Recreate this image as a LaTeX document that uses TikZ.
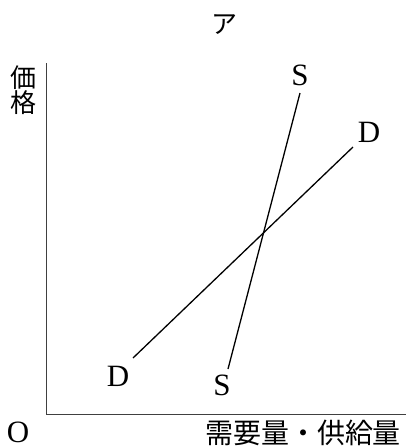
\documentclass[tikz,border=0pt]{standalone}
\usepackage{fontspec}
\setmainfont{Liberation Serif}
\newfontfamily\jpfont{Noto Sans CJK JP}
\definecolor{AxisClr}{rgb}{0.25,0.25,0.25}

\begin{document}
\begin{tikzpicture}[x=1pt,y=-1pt,
  curve/.style={line width=1.3pt,color=black},
  axis/.style={line width=1pt,color=AxisClr},
  lbl/.style={inner sep=0pt,font=\fontsize{31}{33}\selectfont},
  jlbl/.style={inner sep=0pt,font=\jpfont\fontsize{26}{28}\selectfont}]
\useasboundingbox (0,0) rectangle (406,448);

% axes
\coordinate (O) at (46,414);
\coordinate (Ytop) at (46,63);
\coordinate (Xend) at (406,414);
\draw[axis] (Ytop) -- (O) -- (Xend);

% supply and demand
\coordinate (S1) at (228,369);
\coordinate (S2) at (300,93);
\coordinate (D1) at (133,358);
\coordinate (D2) at (353,147);
\draw[curve] (S1) -- (S2);
\draw[curve] (D1) -- (D2);

% labels
\node[jlbl] (title) at (224,25) {ア};
\node[lbl] (Stop) at (300,75) {S};
\node[lbl] (Sbot) at (222,385) {S};
\node[lbl] (Dtop) at (369,132) {D};
\node[lbl] (Dbot) at (118,376) {D};
\node[lbl] (Olbl) at (18,432) {O};
\node[jlbl,align=center] (price) at (23,90) {価\\[-3pt]格};
\node[jlbl,font=\jpfont\fontsize{28}{30}\selectfont] (qty) at (303,433) {需要量・供給量};
\end{tikzpicture}
\end{document}
